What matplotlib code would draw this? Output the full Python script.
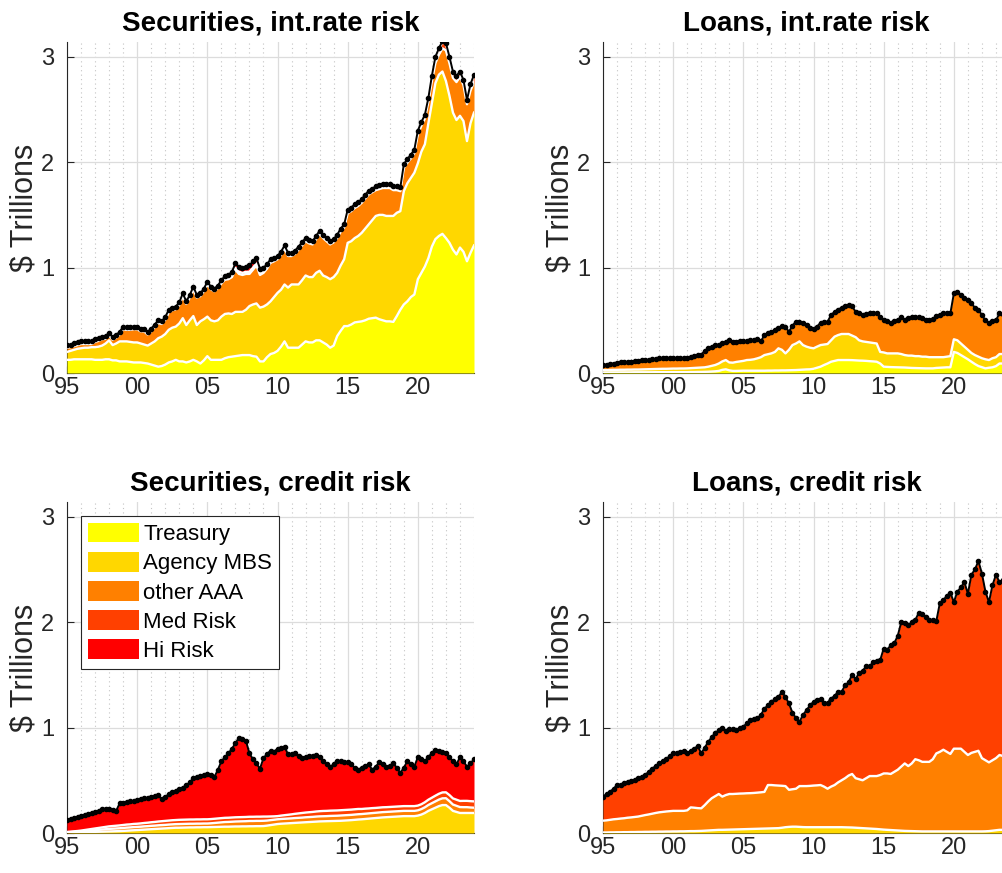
import numpy as np
import matplotlib
matplotlib.use("Agg")
import matplotlib.pyplot as plt
from matplotlib.ticker import MultipleLocator
from matplotlib.patches import Patch

plt.rcParams['font.family'] = ['Liberation Sans', 'DejaVu Sans']

# Quarterly observations, 1995Q1 .. 2024Q1, $ trillions.
# "_top" arrays are running totals (upper edge of a band); others are band amounts.
start_year = 1995
n_quarters = 117

# ---- Securities, interest-rate risk ----
sr_treasury_top = [
    .125, .125, .13, .13,   .13, .13, .13, .13,   .125, .125, .125, .13,
    .13, .12, .12, .11,     .11, .11, .105, .10,  .10, .10, .095, .09,
    .08, .07, .06, .066,    .08, .10, .11, .125,  .11, .11, .10, .11,
    .125, .11, .09, .12,    .16, .125, .125, .125, .125, .14, .15, .155,
    .16, .165, .17, .17,    .17, .16, .155, .11,  .11, .15, .18, .19,
    .21, .25, .30, .24,     .24, .24, .24, .27,   .30, .29, .29, .31,
    .31, .29, .27, .24,     .26, .35, .40, .445,  .445, .46, .48, .485,
    .49, .50, .515, .52,    .525, .51, .50, .49,  .49, .485, .54, .60,
    .65, .68, .72, .745,    .89, .95, 1.01, 1.09, 1.20, 1.27, 1.30, 1.32,
    1.28, 1.235, 1.17, 1.125, 1.19, 1.15, 1.06, 1.14, 1.21]
sr_mbs_top = [
    .20, .21, .22, .23,     .235, .24, .24, .245, .245, .25, .26, .28,
    .31, .265, .28, .30,    .30, .30, .295, .29,  .29, .28, .27, .26,
    .28, .30, .33, .345,    .37, .41, .43, .44,   .47, .52, .455, .50,
    .54, .455, .49, .51,    .535, .50, .49, .50,  .535, .56, .565, .56,
    .58, .58, .58, .60,     .635, .65, .66, .62,  .63, .65, .68, .72,
    .76, .79, .84, .81,     .84, .84, .84, .88,   .925, .91, .91, .95,
    .97, .925, .91, .89,    .91, .95, 1.02, 1.08, 1.235, 1.25, 1.28, 1.30,
    1.33, 1.37, 1.41, 1.45, 1.49, 1.50, 1.50, 1.49, 1.49, 1.49, 1.52, 1.535,
    1.725, 1.80, 1.85, 1.90, 1.99, 2.10, 2.17, 2.37, 2.56, 2.75, 2.83, 2.86,
    2.77, 2.63, 2.47, 2.40, 2.44, 2.39, 2.20, 2.37, 2.47]
sr_med = [
    .02, .02, .02, .02,  .02, .02, .02, .02,  .02, .02, .02, .02,
    .02, .02, .02, .02,  .02, .02, .02, .02,  .02, .02, .02, .02,
    .02, .02, .02, .02,  .02, .02, .02, .02,  .02, .02, .02, .02,
    .02, .02, .02, .02,  .02, .02, .02, .02,  .02, .02, .02, .02,
    .02, .02, .02, .02,  .02, .02, .02, .02,  .02, .02, .02, .02,
    .02, .02, .02, .02,  .02, .02, .02, .02,  .02, .02, .02, .02,
    .02, .02, .02, .02,  .02, .02, .02, .02,  .025, .025, .025, .025,
    .025, .025, .025, .025,  .025, .025, .025, .025,  .025, .025, .025, .025,
    .025, .025, .025, .025,  .025, .025, .025, .025,  .04, .05, .05, .06,
    .06, .05, .05, .05,  .04, .04, .03, .05,  .06]
sr_hi = [
    .005, .005, .005, .005,  .005, .005, .005, .005,  .005, .005, .005, .005,
    .005, .005, .005, .005,  .005, .005, .005, .005,  .005, .005, .005, .005,
    .005, .005, .005, .005,  .005, .005, .005, .005,  .005, .005, .005, .005,
    .005, .005, .005, .005,  .005, .005, .005, .005,  .01, .015, .02, .03,
    .04, .05, .05, .05,  .06, .06, .05, .04,  .03, .02, .015, .01,
    .01, .01, .01, .01,  .01, .01, .01, .01,  .01, .01, .01, .01,
    .01, .01, .01, .01,  .01, .01, .01, .01,  .01, .01, .01, .01,
    .01, .01, .01, .01,  .01, .01, .01, .01,  .01, .01, .01, .01,
    .01, .01, .01, .01,  .01, .01, .01, .01,  .01, .01, .01, .01,
    .01, .01, .01, .01,  .01, .01, .01, .01,  .01]
sr_total = [
    .265, .27, .28, .29,    .30, .30, .30, .30,    .32, .33, .345, .35,
    .38, .34, .36, .39,     .44, .435, .435, .44,  .44, .42, .42, .39,
    .42, .46, .50, .49,     .53, .60, .62, .63,    .67, .755, .68, .74,
    .82, .74, .755, .80,    .865, .82, .80, .83,   .88, .92, .93, .96,
    1.04, 1.01, 1.00, 1.01, 1.02, 1.06, 1.09, .99, 1.00, 1.03, 1.08, 1.09,
    1.11, 1.15, 1.21, 1.14, 1.14, 1.16, 1.20, 1.24, 1.28, 1.26, 1.25, 1.30,
    1.35, 1.31, 1.28, 1.25, 1.27, 1.31, 1.37, 1.41, 1.55, 1.57, 1.60, 1.62,
    1.65, 1.69, 1.73, 1.75, 1.77, 1.78, 1.79, 1.79, 1.79, 1.77, 1.77, 1.76,
    1.98, 2.03, 2.07, 2.12, 2.30, 2.38, 2.45, 2.61, 2.82, 3.00, 3.08, 3.15,
    3.13, 3.00, 2.86, 2.82, 2.86, 2.78, 2.59, 2.74, 2.83]

# ---- Loans, interest-rate risk ----
lr_treasury_top = [
    .005, .005, .006, .006,  .006, .006, .006, .006,  .006, .007, .007, .007,
    .007, .007, .007, .008,  .008, .008, .008, .008,  .008, .008, .008, .008,
    .008, .009, .009, .010,  .010, .011, .012, .014,  .016, .020, .030, .035,
    .025, .020, .020, .021,  .022, .022, .022, .022,  .022, .022, .022, .023,
    .023, .024, .024, .025,  .025, .026, .027, .028,  .030, .032, .034, .035,
    .040, .050, .060, .076,  .090, .107, .115, .123,  .123, .123, .123, .122,
    .120, .118, .117, .115,  .112, .110, .107, .090,  .060, .058, .056, .055,
    .054, .053, .052, .050,  .048, .047, .046, .045,  .044, .044, .044, .048,
    .050, .052, .054, .054,  .20, .19, .17, .15,      .13, .107, .085, .066,
    .055, .044, .050, .054,  .065, .09, .09, .09,     .09]
lr_mbs_top = [
    .028, .028, .029, .030,  .030, .031, .031, .032,  .032, .033, .033, .034,
    .035, .036, .037, .038,  .039, .040, .040, .041,  .042, .042, .043, .043,
    .044, .046, .048, .050,  .052, .054, .060, .068,  .076, .090, .110, .123,
    .100, .098, .105, .110,  .115, .123, .125, .130,  .139, .150, .170, .178,
    .186, .20, .234, .22,    .186, .22, .265, .28,    .30, .265, .25, .24,
    .234, .25, .265, .27,    .275, .31, .345, .36,    .37, .37, .37, .355,
    .34, .31, .30, .295,     .29, .285, .28, .20,     .195, .186, .186, .186,
    .186, .18, .17, .165,    .165, .16, .16, .155,    .155, .15, .15, .15,
    .15, .15, .155, .16,     .32, .31, .28, .25,      .22, .19, .17, .155,
    .14, .13, .123, .14,     .15, .18, .18, .18,      .18]
lr_total = [
    .076, .08, .085, .09,    .098, .10, .10, .105,    .107, .11, .115, .12,
    .123, .125, .13, .135,   .139, .14, .14, .14,     .139, .14, .14, .143,
    .145, .15, .16, .17,     .175, .21, .234, .25,    .265, .27, .28, .29,
    .31, .29, .295, .30,     .30, .305, .31, .315,    .32, .30, .36, .375,
    .39, .41, .43, .445,     .44, .39, .45, .487,     .487, .47, .46, .43,
    .42, .44, .477, .48,     .487, .55, .58, .60,     .62, .635, .645, .635,
    .58, .57, .55, .56,      .565, .565, .565, .53,   .50, .49, .477, .49,
    .50, .535, .50, .52,     .53, .53, .53, .52,      .50, .50, .51, .54,
    .55, .57, .57, .565,     .755, .77, .74, .71,     .69, .66, .62, .60,
    .55, .50, .47, .49,      .50, .565, .56, .55,     .55]

# ---- Securities, credit risk ----
sc_mbs = [
    .003, .004, .005, .006,  .007, .008, .009, .010,  .011, .012, .013, .014,
    .015, .016, .017, .018,  .020, .022, .024, .026,  .028, .030, .032, .034,
    .036, .038, .040, .042,  .044, .046, .048, .050,  .050, .051, .052, .053,
    .053, .054, .054, .055,  .055, .056, .057, .058,  .059, .060, .060, .061,
    .062, .062, .063, .063,  .064, .064, .065, .065,  .066, .070, .075, .080,
    .085, .088, .090, .092,  .094, .096, .098, .100,  .102, .104, .106, .108,
    .110, .111, .112, .113,  .114, .115, .116, .118,  .120, .122, .125, .128,
    .130, .133, .136, .139,  .142, .145, .148, .150,  .152, .154, .156, .158,
    .160, .160, .160, .160,  .165, .175, .19, .21,    .225, .24, .255, .265,
    .265, .24, .21, .20,     .19, .19, .19, .19,      .19]
sc_aaa = [
    .003, .004, .005, .006,  .008, .010, .012, .014,  .016, .018, .020, .022,
    .024, .025, .026, .027,  .028, .029, .029, .030,  .030, .030, .031, .031,
    .032, .032, .033, .033,  .033, .034, .034, .034,  .035, .035, .035, .035,
    .035, .035, .035, .035,  .035, .036, .038, .040,  .042, .044, .045, .046,
    .047, .048, .048, .049,  .050, .050, .050, .050,  .050, .048, .047, .046,
    .045, .045, .045, .045,  .045, .046, .046, .046,  .047, .047, .047, .048,
    .048, .048, .048, .049,  .049, .049, .050, .050,  .050, .050, .050, .050,
    .050, .050, .050, .050,  .050, .050, .050, .050,  .050, .050, .050, .050,
    .050, .050, .050, .050,  .050, .052, .054, .056,  .058, .060, .062, .064,
    .065, .062, .060, .058,  .056, .055, .055, .052,  .050]
sc_med = [
    .004, .005, .006, .007,  .008, .010, .012, .014,  .016, .018, .020, .022,
    .024, .025, .026, .027,  .028, .029, .029, .030,  .030, .031, .032, .033,
    .034, .035, .036, .037,  .038, .038, .039, .039,  .040, .040, .040, .040,
    .040, .040, .040, .040,  .040, .040, .040, .040,  .040, .040, .040, .040,
    .040, .040, .040, .040,  .040, .040, .040, .040,  .040, .038, .035, .032,
    .030, .032, .034, .036,  .038, .040, .042, .044,  .045, .046, .047, .048,
    .049, .050, .050, .050,  .050, .050, .050, .050,  .050, .050, .050, .050,
    .048, .048, .047, .047,  .046, .046, .046, .045,  .045, .045, .045, .045,
    .045, .045, .045, .045,  .045, .046, .048, .050,  .052, .054, .055, .056,
    .056, .058, .058, .058,  .058, .060, .060, .060,  .060]
sc_total = [
    .123, .13, .145, .15,    .16, .17, .18, .19,      .20, .21, .23, .23,
    .23, .22, .21, .28,      .28, .29, .30, .30,      .31, .32, .33, .33,
    .34, .35, .36, .32,      .34, .37, .39, .40,      .42, .43, .455, .48,
    .52, .53, .54, .55,      .56, .55, .53, .60,      .68, .72, .755, .80,
    .85, .905, .89, .875,    .755, .70, .66, .61,     .71, .75, .78, .77,
    .80, .81, .82, .745,     .75, .755, .73, .71,     .72, .73, .735, .74,
    .72, .68, .65, .63,      .65, .685, .68, .675,    .67, .65, .62, .60,
    .62, .64, .65, .60,      .63, .67, .65, .63,      .64, .66, .62, .57,
    .62, .68, .65, .63,      .72, .70, .68, .72,      .76, .79, .78, .77,
    .755, .72, .68, .65,     .72, .68, .63, .66,      .70]

# ---- Loans, credit risk ----
lc_mbs = [
    .005, .005, .006, .006,  .007, .007, .008, .008,  .009, .009, .010, .010,
    .011, .011, .012, .012,  .013, .013, .014, .014,  .015, .015, .016, .016,
    .017, .018, .018, .019,  .020, .022, .024, .026,  .028, .030, .030, .031,
    .032, .033, .034, .035,  .036, .037, .038, .039,  .040, .041, .042, .043,
    .044, .045, .046, .050,  .055, .058, .060, .060,  .058, .056, .055, .055,
    .055, .055, .055, .055,  .055, .055, .055, .055,  .055, .054, .053, .052,
    .050, .048, .046, .044,  .042, .040, .038, .035,  .032, .030, .028, .026,
    .024, .022, .020, .019,  .018, .017, .016, .015,  .015, .015, .015, .015,
    .015, .015, .015, .015,  .015, .015, .015, .015,  .015, .015, .015, .015,
    .015, .016, .018, .022,  .026, .030, .030, .030,  .030]
lc_aaa_top = [
    .117, .12, .125, .13,    .133, .137, .14, .145,   .148, .152, .156, .163,
    .17, .176, .183, .19,    .196, .20, .204, .207,   .21, .21, .21, .21,
    .215, .243, .24, .236,   .234, .265, .30, .33,    .35, .37, .345, .36,
    .37, .37, .372, .374,    .375, .377, .378, .38,   .383, .386, .39, .455,
    .455, .452, .45, .448,   .445, .41, .415, .42,    .445, .445, .445, .447,
    .45, .452, .455, .44,    .42, .44, .455, .48,     .50, .52, .545, .56,
    .52, .51, .50, .52,      .54, .54, .54, .55,      .565, .565, .56, .58,
    .60, .63, .66, .635,     .66, .70, .69, .675,     .675, .675, .70, .755,
    .77, .79, .77, .75,      .80, .80, .80, .77,      .74, .76, .77, .78,
    .71, .69, .67, .69,      .71, .74, .73, .72,      .72]
lc_total = [
    .345, .37, .39, .42,     .455, .46, .47, .48,     .49, .50, .52, .535,
    .55, .58, .61, .635,     .66, .68, .70, .73,      .755, .76, .77, .78,
    .755, .78, .80, .825,    .755, .81, .865, .91,    .95, .975, 1.00, .97,
    .99, .985, .98, .995,    1.01, 1.04, 1.07, 1.08,  1.09, 1.12, 1.18, 1.21,
    1.245, 1.27, 1.29, 1.34, 1.29, 1.23, 1.14, 1.09, 1.055, 1.12, 1.165, 1.21,
    1.245, 1.26, 1.27, 1.23, 1.235, 1.275, 1.30, 1.34, 1.34, 1.40, 1.43, 1.50,
    1.46, 1.52, 1.54, 1.58, 1.58, 1.62, 1.63, 1.64,  1.75, 1.74, 1.78, 1.80,
    1.87, 2.00, 1.99, 1.97, 2.00, 2.02, 2.09, 2.08,  2.05, 2.02, 2.02, 2.01,
    2.18, 2.21, 2.25, 2.28, 2.19, 2.29, 2.33, 2.38,  2.27, 2.45, 2.50, 2.58,
    2.46, 2.29, 2.19, 2.35, 2.45, 2.38, 2.40, 2.42,  2.45]

categories = ['Treasury', 'Agency MBS', 'other AAA', 'Med Risk', 'Hi Risk']
colors = {'Treasury': '#FFFF00', 'Agency MBS': '#FFD700', 'other AAA': '#FF8000',
          'Med Risk': '#FF4000', 'Hi Risk': '#FF0000'}
year_ticks = [1995, 2000, 2005, 2010, 2015, 2020]
year_labels = ['95', '00', '05', '10', '15', '20']
y_ticks = [0, 1, 2, 3]
y_max = 3.14

t = start_year + np.arange(n_quarters) / 4.0
A = lambda v: np.asarray(v, dtype=float)

W, H = 1002, 873
fig = plt.figure(figsize=(W / 100, H / 100), dpi=100)


def make_axes(x0, y_top, y_bot):
    return fig.add_axes([x0 / W, 1 - y_bot / H, 407 / W, (y_bot - y_top) / H])


def draw_panel(ax, edges, band_names, total, title, ylabel=True):
    lower = np.zeros_like(t)
    for top, name in zip(edges, band_names):
        ax.fill_between(t, lower, top, color=colors[name], lw=0, zorder=3)
        lower = top
    for e in edges[:-1]:
        ax.plot(t, e, color='white', lw=1.7, zorder=3.5)
    ax.plot(t, total, color='black', lw=1.4, marker='o', ms=3.0,
            mec='black', mfc='black', zorder=4)

    ax.set_xlim(start_year, t[-1])
    ax.set_ylim(0, y_max)
    ax.set_xticks(year_ticks)
    ax.set_xticklabels(year_labels)
    ax.set_yticks(y_ticks)
    ax.xaxis.set_minor_locator(MultipleLocator(1))
    ax.set_axisbelow(True)
    ax.grid(True, which='major', color='#dcdcdc', lw=0.9)
    ax.grid(True, which='minor', axis='x', color='#c4c4c4', lw=0.8, ls=(0, (1, 3)))
    ax.tick_params(which='major', direction='in', length=5, width=0.8,
                   colors='#262626', labelsize=17)
    ax.tick_params(axis='x', which='major', pad=3)
    ax.tick_params(axis='y', which='major', pad=9)
    ax.tick_params(which='minor', length=0)
    for s in ('top', 'right'):
        ax.spines[s].set_visible(False)
    for s in ('left', 'bottom'):
        ax.spines[s].set_color('#262626')
        ax.spines[s].set_linewidth(0.8)
    ax.set_title(title, fontsize=20, fontweight='bold', pad=8)
    if ylabel:
        ax.set_ylabel(r'\$ Trillions', fontsize=22, color='#262626', labelpad=1)


ax1 = make_axes(67, 42, 373)
sr_t = A(sr_total)
draw_panel(ax1, [A(sr_treasury_top), A(sr_mbs_top),
                 sr_t - A(sr_hi) - A(sr_med), sr_t - A(sr_hi), sr_t],
           categories, sr_t, 'Securities, int.rate risk')

ax2 = make_axes(603, 42, 373)
draw_panel(ax2, [A(lr_treasury_top), A(lr_mbs_top), A(lr_total)],
           categories[:3], A(lr_total), 'Loans, int.rate risk')

ax3 = make_axes(67, 502, 833)
c1 = A(sc_mbs)
c2 = c1 + A(sc_aaa)
c3 = c2 + A(sc_med)
draw_panel(ax3, [c1, c2, c3, A(sc_total)], categories[1:], A(sc_total),
           'Securities, credit risk')

ax4 = make_axes(603, 502, 833)
draw_panel(ax4, [A(lc_mbs), A(lc_aaa_top), A(lc_total)], categories[1:4],
           A(lc_total), 'Loans, credit risk')

handles = [Patch(facecolor=colors[c], edgecolor='none', label=c) for c in categories]
leg = ax3.legend(handles=handles, loc='upper left', bbox_to_anchor=(0.034, 0.958),
                 borderaxespad=0, fontsize=16, handlelength=2.3, handleheight=1.0,
                 labelspacing=0.3, borderpad=0.3, handletextpad=0.2,
                 fancybox=False, framealpha=1)
leg.get_frame().set_edgecolor('#262626')
leg.get_frame().set_linewidth(0.8)
leg.set_zorder(10)

fig.savefig('out.png', dpi=100)
